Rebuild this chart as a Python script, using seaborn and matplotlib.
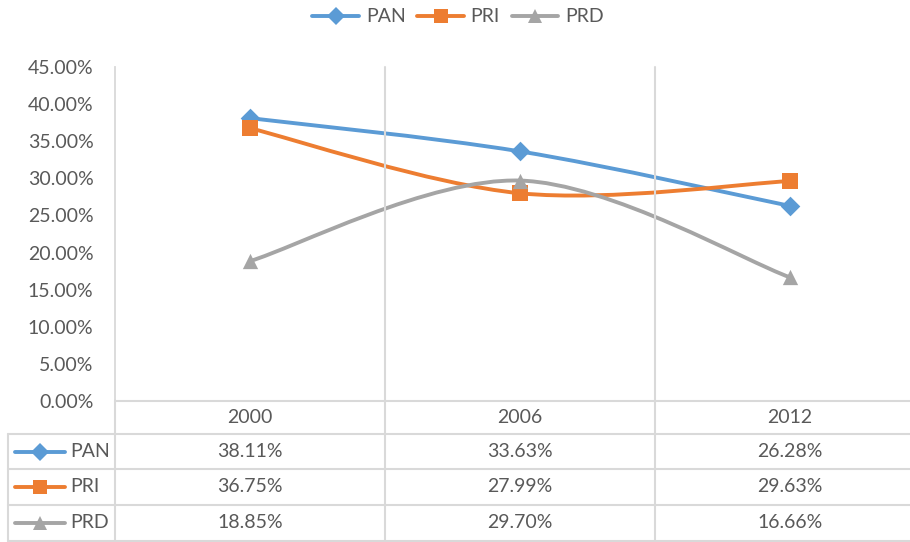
import numpy as np
import matplotlib
matplotlib.use("Agg")
import matplotlib.pyplot as plt
import seaborn as sns
import pandas as pd
from matplotlib.path import Path
from matplotlib.patches import PathPatch
from matplotlib.lines import Line2D
from matplotlib import transforms

# ---- data ----
years = ["2000", "2006", "2012"]
series = ["PAN", "PRI", "PRD"]
pan = [38.11, 33.63, 26.28]
pri = [36.75, 27.99, 29.63]
prd = [18.85, 29.70, 16.66]
yticks = [0, 5, 10, 15, 20, 25, 30, 35, 40, 45]

colors = {"PAN": "#5B9BD5", "PRI": "#ED7D31", "PRD": "#A5A5A5"}
markers = {"PAN": "D", "PRI": "s", "PRD": "^"}
msize = {"PAN": 10, "PRI": 11, "PRD": 11}
values = {"PAN": pan, "PRI": pri, "PRD": prd}

sns.set_theme(style="white")
plt.rcParams["font.family"] = ["Lato", "DejaVu Sans"]
TXT = "#595959"
GRID = "#D9D9D9"
FS = 14

W, H = 910, 542
fig = plt.figure(figsize=(W / 100, H / 100), dpi=100)

def fx(px):
    return px / W

def fy(py):
    return 1 - py / H

ax = fig.add_axes([fx(115), fy(401), 810 / W, 334 / H])
ax.set_xlim(-0.5, 2.5)
ax.set_ylim(0, 45)

xs = np.arange(len(years))

def smooth_path(x, y):
    pts = np.column_stack([x, y]).astype(float)
    n = len(pts)
    verts = [pts[0]]
    codes = [Path.MOVETO]
    for i in range(n - 1):
        p0 = pts[i - 1] if i > 0 else pts[i]
        p1 = pts[i]
        p2 = pts[i + 1]
        p3 = pts[i + 2] if i + 2 < n else pts[i + 1]
        c1 = p1 + (p2 - p0) / 6.0
        c2 = p2 - (p3 - p1) / 6.0
        verts += [c1, c2, p2]
        codes += [Path.CURVE4] * 3
    return Path(verts, codes)

for s in series:
    patch = PathPatch(smooth_path(xs, values[s]), facecolor="none",
                      edgecolor=colors[s], lw=2.8, capstyle="round", zorder=3)
    ax.add_patch(patch)

df = pd.DataFrame([(i, values[s][i], s) for s in series for i in range(len(years))],
                  columns=["x", "y", "party"])
for s in series:
    sub = df[df.party == s]
    sns.scatterplot(data=sub, x="x", y="y", ax=ax, color=colors[s], marker=markers[s],
                    s=msize[s] ** 2, edgecolor=colors[s], linewidth=0, zorder=4, legend=False)

ax.set_xlabel("")
ax.set_ylabel("")
ax.set_xticks([])
ax.set_yticks(yticks)
ax.set_yticklabels([f"{v:.2f}%" for v in yticks], fontsize=FS, color=TXT)
ax.tick_params(axis="y", length=0, pad=15.5)
for sp in ["top", "right", "bottom"]:
    ax.spines[sp].set_visible(False)
ax.spines["left"].set_color(GRID)
ax.spines["left"].set_linewidth(1.3)
ax.grid(False)

# ---- data table ----
def hline(y, x0, x1):
    fig.add_artist(Line2D([fx(x0), fx(x1)], [fy(y), fy(y)], color=GRID, lw=1.5))

def vline(x, y0, y1):
    fig.add_artist(Line2D([fx(x), fx(x)], [fy(y0), fy(y1)], color=GRID, lw=1.5))

row_edges = [401, 434, 469, 505, 541]
hline(401, 115, 910)
for y in row_edges[1:]:
    hline(y, 8, 910)
vline(8, 434, 541)
vline(115, 401, 541)
blend = transforms.blended_transform_factory(ax.transData, fig.transFigure)
for b in [0.5, 1.5]:
    fig.add_artist(Line2D([b, b], [fy(67), fy(541)], color=GRID, lw=1.5, transform=blend))

# headers
hy = (row_edges[0] + row_edges[1]) / 2
for i, yr in enumerate(years):
    fig.text(i, fy(hy), yr, transform=blend, ha="center", va="center", fontsize=FS, color=TXT)

for r, s in enumerate(series):
    cy = (row_edges[r + 1] + row_edges[r + 2]) / 2
    fig.add_artist(Line2D([fx(15), fx(65)], [fy(cy), fy(cy)], color=colors[s], lw=2.8))
    fig.add_artist(Line2D([fx(40)], [fy(cy)], color=colors[s], marker=markers[s],
                          markersize=msize[s] * 0.95, markeredgewidth=0, linestyle="none"))
    fig.text(fx(70), fy(cy), s, ha="left", va="center", fontsize=FS, color=TXT)
    for i, v in enumerate(values[s]):
        fig.text(i, fy(cy), f"{v:.2f}%", transform=blend, ha="center", va="center",
                 fontsize=FS, color=TXT)

# ---- legend ----
handles = [Line2D([0], [0], color=colors[s], lw=2.8, marker=markers[s],
                  markersize=msize[s] * 0.95, markeredgewidth=0) for s in series]
fig.legend(handles, series, loc="center", bbox_to_anchor=(fx(458), fy(17)), ncol=3,
           frameon=False, fontsize=FS, handlelength=2.4, columnspacing=0.6,
           handletextpad=0.35, labelcolor=TXT)

fig.savefig("out.png", dpi=100)
